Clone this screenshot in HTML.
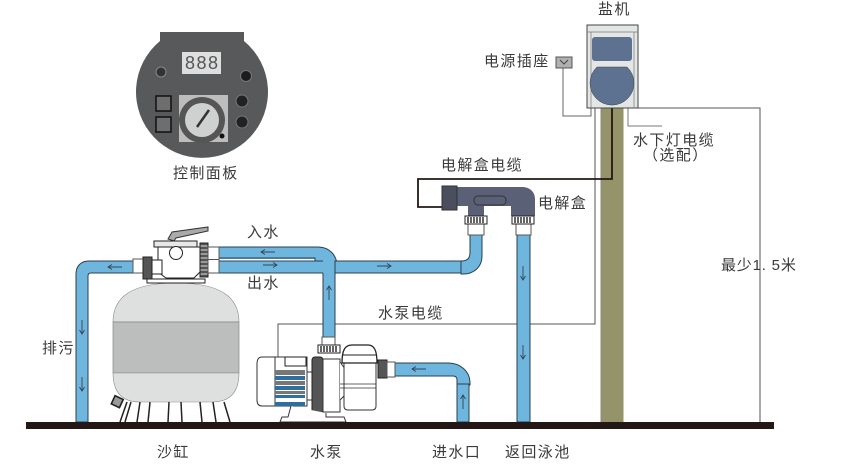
<!DOCTYPE html>
<html><head><meta charset="utf-8"><style>
html,body{margin:0;padding:0;background:#fff}
svg{display:block}
text{font-family:"Liberation Sans","Noto Sans CJK SC",sans-serif;fill:#3a3a3a;font-size:15px;letter-spacing:1.4px}
</style></head><body>
<svg width="850" height="470" viewBox="0 0 850 470" xmlns="http://www.w3.org/2000/svg">
<rect width="850" height="470" fill="#fff"/>
<defs>
<g id="ua"><path d="M-7 0H7M-3 -2.500L-7 0L-3 2.500" fill="none" stroke="#345" stroke-width=".9"/></g>
<g id="ur"><path d="M-7 0H7M3 -2.500L7 0L3 2.500" fill="none" stroke="#345" stroke-width=".9"/></g>
<g id="ud"><path d="M0 -7V7M-2.500 3L0 7L2.500 3" fill="none" stroke="#345" stroke-width=".9"/></g>
<g id="uu"><path d="M0 -7V7M-2.500 -3L0 -7L2.500 -3" fill="none" stroke="#345" stroke-width=".9"/></g>
<g id="unionV"><rect x="-11" y="0" width="22" height="8" fill="#fff" stroke="#222"/><path d="M-8 1V7M-5 1V7M-2 1V7M1 1V7M4 1V7M7 1V7" stroke="#222" stroke-width="1.400"/></g>
<g id="ribV"><path d="M1 3H8M1 7H8M1 11H8M1 15H8M1 19H8M1 23H8M1 27H8M1 31H8" stroke="#ddd" stroke-width="1"/></g>
</defs>

<!-- panel -->
<path d="M160 32H244V41A66 66 0 1 1 160 41Z" fill="#58595b"/>
<rect x="182" y="52" width="39" height="22" fill="#dedede"/>
<text x="185" y="69" style="font-size:18px;letter-spacing:1.500px;fill:#555">888</text>
<circle cx="161" cy="72" r="5" fill="#333" stroke="#888"/>
<circle cx="246" cy="76" r="5.500" fill="#1c1c1c" stroke="#777"/>
<rect x="156" y="96" width="15" height="15" fill="#6e6e6e" stroke="#111" stroke-width="1.500"/>
<rect x="156" y="117" width="15" height="15" fill="#6e6e6e" stroke="#111" stroke-width="1.500"/>
<rect x="179" y="95" width="49" height="47" fill="#bdbdbd"/>
<circle cx="202" cy="120" r="23" fill="#555"/>
<circle cx="202" cy="120" r="17" fill="#cfd1d1"/>
<path d="M197 127L209 110" stroke="#333" stroke-width="2.500"/>
<circle cx="222" cy="136" r="2.500" fill="#111"/>
<circle cx="242" cy="101" r="6" fill="#222" stroke="#777"/>
<circle cx="242" cy="122" r="6" fill="#222" stroke="#777"/>

<!-- thin wires -->
<path d="M278 357V324H595V108" fill="none" stroke="#555" stroke-width="1"/>
<path d="M638 108H760V422" fill="none" stroke="#555" stroke-width="1"/>
<path d="M563 68V116H591V108" fill="none" stroke="#666" stroke-width="1"/>
<path d="M628 108V126H662" fill="none" stroke="#777" stroke-width="1"/>

<!-- post -->
<rect x="601" y="106" width="22.500" height="317" fill="#94936a"/>
<rect x="600.500" y="106" width="1" height="317" fill="#888"/>
<path d="M612 106V179H418V207H444" fill="none" stroke="#231815" stroke-width="1.800"/>

<!-- salt machine -->
<rect x="587" y="25" width="51" height="83" fill="#e4e6e6" stroke="#444"/>
<path d="M587 32H638M591 32V108M634 32V108" stroke="#777" stroke-width=".7" fill="none"/>
<rect x="592" y="37" width="40" height="24" rx="3" fill="#5d7191"/>
<path d="M597 67H627A22 22 0 1 1 597 67Z" fill="#5d7191" stroke="#444" stroke-width=".5"/>
<rect x="556" y="57" width="16" height="11" fill="#b0b0b0" stroke="#555"/>
<path d="M560 60L564 64L568 60" fill="none" stroke="#444"/>

<!-- pipes -->
<g fill="#6eb6de" stroke="#2c3e4c" stroke-width="1">
<path d="M133 261H89C81 261 76 266 76 274V422H88V276Q88 273 91 273H133Z"/>
<path d="M219 247H318C329 247 337 255 337 266V273H219V261H315V259H219Z" stroke="none"/>
<path d="M219 247H318C329 247 337 255 337 266V272H335M219 258H315V261M219 261H323M219 273H323" fill="none"/>
<rect x="323" y="261" width="12" height="76" stroke="none"/>
<path d="M323 273V337M335 273V337" fill="none"/>
<path d="M335 261H462V273H335Z"/>
<path d="M461 261C468 261 470 258 470 252V235H482V256C482 267 474 274 463 274H461Z"/>
<path d="M395 363H448C460 363 470 371 470 383V385H457V380Q457 376 453 376H395Z"/>
<rect x="457" y="384" width="12" height="38"/>
<rect x="517" y="235" width="13" height="187"/>
</g>
<rect x="322" y="337" width="13" height="8" fill="#fff" stroke="#555"/>
<rect x="468" y="224" width="16" height="11" fill="#fff" stroke="#555"/>
<rect x="516" y="224" width="15" height="11" fill="#fff" stroke="#555"/>

<!-- arrows -->
<use href="#ua" x="115" y="267"/><use href="#ud" x="82" y="327"/><use href="#ud" x="82" y="384"/>
<use href="#ua" x="268" y="252"/><use href="#ur" x="270" y="265"/>
<use href="#uu" x="329" y="293"/><use href="#ur" x="384" y="266"/>
<use href="#ua" x="419" y="369"/><use href="#uu" x="463" y="402"/>
<use href="#ud" x="523" y="273"/><use href="#ud" x="523" y="352"/>

<!-- electrolyser -->
<path d="M450 187H522C530 187 535 192 535 199V216H511V206H484V216H468V206H442V187Z" fill="#5a6075"/>
<rect x="442" y="186" width="15" height="24" fill="#4a4e5e" stroke="#333"/>
<rect x="474" y="196" width="32" height="9" rx="4" fill="none" stroke="#333"/>
<use href="#unionV" x="476" y="216"/><use href="#unionV" x="523" y="216"/>

<!-- tank -->
<path d="M113 322C113 298 130 283 176 283C222 283 239 298 239 322Z" fill="#dedfdf" stroke="#8a8a8a" stroke-width=".6"/>
<rect x="113" y="322" width="126" height="51" fill="#bcbdbd" stroke="#777" stroke-width=".6"/>
<path d="M113 373C113 395 125 402 140 402H212C227 402 239 395 239 373Z" fill="#dedfdf" stroke="#8a8a8a" stroke-width=".6"/>
<g stroke="#222" stroke-width="1.500" fill="none"><path d="M127 402L120 422M131 402L125 422M140 402L137 422M150 402L148 422M169 402L168 422M181 402L182 422M200 402L202 422M213 402L216 422M224 402L230 422"/></g>
<rect x="113" y="397" width="9" height="9" transform="rotate(25 117 401)" fill="#999" stroke="#222" stroke-width="1.600"/>

<!-- valve -->
<path d="M168 239L172 232L208 227V231L176 238L174 241Z" fill="#aaa" stroke="#333"/>
<rect x="154" y="241" width="43" height="6" fill="#e8e8e8" stroke="#222"/>
<path d="M158 247H200V272L194 278H166L158 272Z" fill="#fff" stroke="#222"/>
<circle cx="176" cy="253" r="6.500" fill="#fff" stroke="#222"/>
<rect x="133" y="259" width="10" height="14" fill="#fff" stroke="#555"/>
<path d="M152 260H162V274H152Z" fill="#fff" stroke="#222"/>
<rect x="143" y="257" width="9" height="22" fill="#555" stroke="#222"/>
<rect x="200" y="243" width="8" height="34" fill="#555" stroke="#222"/>
<use href="#ribV" x="199.500" y="243"/>
<rect x="208" y="247" width="11" height="26" fill="#fff" stroke="#555"/>
<path d="M208 259.500H219" stroke="#555"/>
<rect x="147" y="279" width="58" height="4" fill="#fff" stroke="#222"/>

<!-- pump -->
<path d="M262 357H276V406H262C258 406 257 403 257 400V364C257 360 258 357 262 357Z" fill="#fff" stroke="#333"/>
<rect x="275" y="357" width="32" height="49" fill="#fff" stroke="#333"/>
<g fill="#2f6f9f"><rect x="275" y="376" width="30" height="4"/><rect x="275" y="386" width="30" height="4"/><rect x="275" y="395" width="30" height="3"/><rect x="275" y="402" width="30" height="4"/></g>
<g fill="#777"><rect x="275" y="370" width="30" height="5"/><rect x="275" y="381" width="30" height="4"/><rect x="275" y="391" width="30" height="3"/></g>
<rect x="285" y="357" width="21" height="9" fill="#fff" stroke="#222"/>
<rect x="307" y="372" width="6" height="28" fill="#fff" stroke="#333"/>
<rect x="312" y="357" width="11" height="56" rx="3" fill="#555" stroke="#222"/>
<path d="M323 359H340V412H323Z" fill="#fff" stroke="#333"/>
<use href="#unionV" x="329" y="345"/>
<path d="M340 362L356 384L340 400" fill="#fff" stroke="#333"/>
<path d="M344 363H376V406Q376 410 372 410H348Q344 410 344 406Z" fill="#fff" stroke="#333"/>
<path d="M340 384H376M340 388H376" stroke="#333" stroke-width=".7"/>
<path d="M342 363C342 350 345 345 352 345H368C374 345 377 350 377 363Z" fill="#fff" stroke="#222" stroke-width="1.300"/>
<path d="M342 355H377" stroke="#222"/>
<rect x="378" y="360" width="9" height="18" fill="#555" stroke="#222"/>
<rect x="387" y="362" width="8" height="15" fill="#fff" stroke="#555"/>
<path d="M291 406L288 417H282L280 422H346L344 417H326V413" fill="#fff" stroke="#333"/>

<!-- ground -->
<rect x="26" y="422" width="748" height="7" fill="#231815"/>

<!-- labels -->
<text x="173" y="178">控制面板</text>
<text x="598" y="14">盐机</text>
<text x="484" y="66">电源插座</text>
<text x="633" y="145">水下灯电缆</text>
<text x="643" y="160">（选配）</text>
<text x="441" y="170">电解盒电缆</text>
<text x="538" y="208">电解盒</text>
<text x="247" y="237">入水</text>
<text x="247" y="288">出水</text>
<text x="378" y="318">水泵电缆</text>
<text x="42" y="353">排污</text>
<text x="721" y="270" style="letter-spacing:.8px">最少1. 5米</text>
<text x="157" y="457">沙缸</text>
<text x="310" y="457">水泵</text>
<text x="432" y="457">进水口</text>
<text x="505" y="457">返回泳池</text>
</svg>
</body></html>
